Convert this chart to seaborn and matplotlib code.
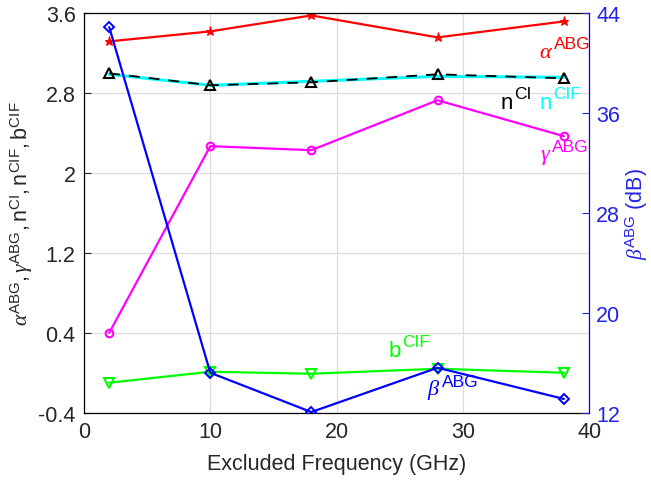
import matplotlib
matplotlib.use("Agg")
import matplotlib.pyplot as plt
import seaborn as sns
import pandas as pd

sns.set_theme(style="white")
plt.rcParams['font.family'] = ['Liberation Sans', 'DejaVu Sans']
plt.rcParams['mathtext.fontset'] = 'custom'
plt.rcParams['mathtext.rm'] = 'Liberation Sans'
plt.rcParams['mathtext.it'] = 'Liberation Serif:italic'
plt.rcParams['mathtext.bf'] = 'Liberation Sans:bold'

# ---- data ----
freq = [2, 10, 18, 28, 38]
alpha_abg = [3.32, 3.42, 3.58, 3.36, 3.52]
n_ci = [3.00, 2.88, 2.91, 2.99, 2.95]
n_cif = [2.99, 2.88, 2.92, 2.97, 2.96]
gamma_abg = [0.40, 2.27, 2.23, 2.73, 2.37]
b_cif = [-0.10, 0.01, -0.01, 0.04, 0.00]
beta_abg = [42.9, 15.2, 12.05, 15.6, 13.1]

x_ticks = [0, 10, 20, 30, 40]
left_ticks = [-0.4, 0.4, 1.2, 2, 2.8, 3.6]
left_ticklabels = ['-0.4', '0.4', '1.2', '2', '2.8', '3.6']
right_ticks = [12, 20, 28, 36, 44]

df = pd.DataFrame({'freq': freq, 'alpha': alpha_abg, 'nci': n_ci, 'ncif': n_cif,
                   'gamma': gamma_abg, 'bcif': b_cif, 'beta': beta_abg})

fig = plt.figure(figsize=(6.51, 4.81), dpi=100)
ax = fig.add_axes([0.129, 0.140, 0.776, 0.830])
ax2 = ax.twinx()

lw = 1.6
sns.lineplot(data=df, x='freq', y='alpha', ax=ax, color='#ff0000', lw=lw,
             marker='*', markersize=6.5, markeredgecolor='#ff0000')
sns.lineplot(data=df, x='freq', y='ncif', ax=ax, color='#00ffff', lw=2.2)
sns.lineplot(data=df, x='freq', y='nci', ax=ax, color='black', lw=1.3,
             linestyle=(0, (6, 5)), marker='^', markersize=6.5,
             markerfacecolor='none', markeredgecolor='black', markeredgewidth=1.5)
sns.lineplot(data=df, x='freq', y='gamma', ax=ax, color='#ff00ff', lw=lw,
             marker='o', markersize=5.5, markerfacecolor='none',
             markeredgecolor='#ff00ff', markeredgewidth=1.5)
sns.lineplot(data=df, x='freq', y='bcif', ax=ax, color='#00ff00', lw=lw,
             marker='v', markersize=6.5, markerfacecolor='none',
             markeredgecolor='#00ff00', markeredgewidth=1.5)
sns.lineplot(data=df, x='freq', y='beta', ax=ax2, color='#0000ff', lw=lw,
             marker='D', markersize=5, markerfacecolor='none',
             markeredgecolor='#0000ff', markeredgewidth=1.4)

ax.set_xlim(0, 40)
ax.set_ylim(-0.4, 3.6)
ax2.set_ylim(12, 44)
ax.set_xticks(x_ticks)
ax.set_yticks(left_ticks)
ax.set_yticklabels(left_ticklabels)
ax2.set_yticks(right_ticks)

ax.grid(True, color='#dcdcdc', lw=0.9)
ax.set_axisbelow(True)

tick_col = '#262626'
blue_txt = '#2323e6'
fsz = 15.5
ax.tick_params(axis='both', direction='in', length=5, width=0.8, colors=tick_col,
               labelsize=fsz, pad=6)
ax2.tick_params(axis='y', direction='in', length=5, width=0.8, colors=blue_txt,
                labelsize=fsz, pad=5)
for s in ['left', 'bottom', 'top']:
    ax.spines[s].set_color('black')
    ax.spines[s].set_linewidth(0.9)
ax.spines['right'].set_visible(False)
for s in ['left', 'bottom', 'top']:
    ax2.spines[s].set_visible(False)
ax2.spines['right'].set_color('#0000ff')
ax2.spines['right'].set_linewidth(0.9)

ax.set_xlabel('Excluded Frequency (GHz)', fontsize=fsz, color=tick_col, labelpad=8)
ax.set_ylabel(r'$\alpha^{\mathrm{ABG}}, \gamma^{\mathrm{ABG}}, \mathrm{n}^{\mathrm{CI}}, '
              r'\mathrm{n}^{\mathrm{CIF}}, \mathrm{b}^{\mathrm{CIF}}$',
              fontsize=fsz, color=tick_col, labelpad=2)
ax2.set_ylabel(r'$\beta^{\mathrm{ABG}}$ (dB)', fontsize=fsz, color=blue_txt, labelpad=2)


def sup_label(x, y, base, sup, color, base_fs=16, sup_fs=12.5, rise=8.5):
    main = ax.text(x, y, base, color=color, fontsize=base_fs, va='baseline')
    ax.annotate(sup, xy=(1, 0), xycoords=main, xytext=(0.8, rise),
                textcoords='offset points', color=color, fontsize=sup_fs,
                va='bottom', ha='left')


sup_label(36.0, 3.16, r'$\alpha$', 'ABG', '#ff0000')
sup_label(33.0, 2.653, 'n', 'CI', 'black')
sup_label(36.1, 2.653, 'n', 'CIF', '#00ffff')
sup_label(36.1, 2.14, r'$\gamma$', 'ABG', '#ff00ff')
sup_label(24.1, 0.166, 'b', 'CIF', '#00ff00')
sup_label(27.2, -0.215, r'$\beta$', 'ABG', '#0000ff')

fig.savefig('out.png', dpi=100, facecolor='white')
